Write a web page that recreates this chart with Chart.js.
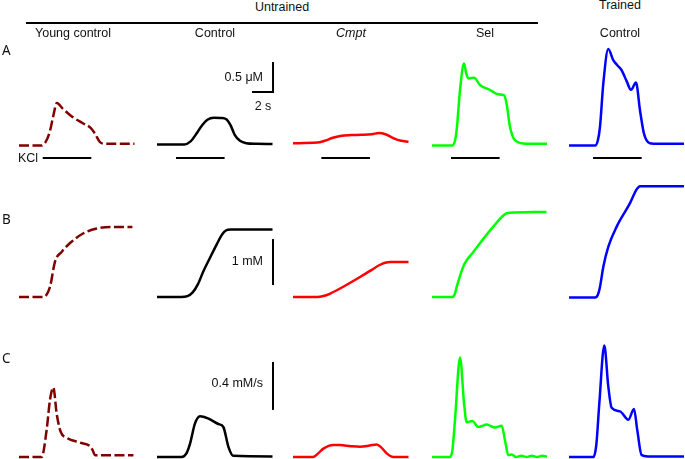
<!DOCTYPE html>
<html>
<head>
<meta charset="utf-8">
<script src="https://cdn.jsdelivr.net/npm/chart.js@4"></script>
<style>
  body { margin: 0; background: #fff; }
  #fig { position: relative; width: 685px; height: 459px; overflow: hidden; background: #fff; }
  #fig canvas { position: absolute; }
  .lbl { position: absolute; transform: translate(-50%, -50%); white-space: nowrap;
         font-family: "Liberation Sans", Arial, sans-serif; font-size: 12.5px; color: #111; }
  .right { transform: translate(-100%, -50%); }
  .letter { font-family: "Noto Sans", sans-serif; font-size: 13.5px; transform: translate(0, -50%); }
  .rule { position: absolute; height: 2px; background: #000; }
</style>
</head>
<body>
<div id="fig"></div>
<script>
// traces: [time (s), value]
const youngA = [[0,-0.01],[2.1,-0.01],[2.5,0.04],[2.9,0.2],[3.25,0.47],[3.6,0.7],[4.2,0.6],[5.0,0.48],[6.0,0.37],[6.8,0.29],[7.2,0.2],[7.7,0.05],[8.2,0.02],[11,0.02]];
const controlA = [[0,0.01],[2.6,0.01],[3.2,0.06],[3.8,0.2],[4.3,0.33],[4.8,0.42],[5.4,0.455],[6.1,0.45],[6.6,0.43],[7.0,0.33],[7.4,0.17],[7.9,0.07],[8.5,0.03],[9.5,0.02],[11,0.015]];
const cmptA = [[0,0.03],[2.3,0.04],[3.0,0.07],[3.8,0.12],[4.5,0.15],[5.5,0.165],[6.5,0.17],[7.5,0.18],[8.2,0.2],[8.8,0.18],[9.6,0.11],[10.3,0.07],[11,0.055]];
const selA = [[0,-0.01],[1.9,-0.01],[2.2,0.08],[2.35,0.25],[2.67,0.92],[3.05,1.36],[3.25,1.2],[3.46,1.11],[4.0,1.12],[4.57,1.0],[4.95,0.96],[5.5,0.92],[6.3,0.845],[6.86,0.83],[7.1,0.69],[7.43,0.3],[7.9,0.08],[9.0,0.02],[10.95,0.02]];
const trainedA = [[0,-0.01],[2.48,-0.01],[2.75,0.08],[2.95,0.3],[3.27,1.03],[3.74,1.6],[4.2,1.42],[4.6,1.33],[5.0,1.25],[5.5,1.06],[5.9,0.92],[6.38,1.04],[6.76,0.58],[7.14,0.19],[7.7,0.03],[8.5,0.02],[10.95,0.02]];

const youngB = [[0,0],[2.3,0],[2.95,0.22],[3.43,0.77],[4.06,0.98],[5.0,1.2],[6.1,1.38],[7.4,1.49],[8.67,1.52],[10.8,1.52]];
const controlB = [[0,0],[2.3,0],[2.9,0.02],[3.4,0.1],[3.9,0.28],[4.44,0.57],[5.0,0.83],[5.7,1.15],[6.2,1.36],[6.6,1.45],[7.0,1.47],[11,1.47]];
const cmptB = [[0,0],[2.3,0],[2.9,0.02],[3.5,0.07],[5,0.25],[6.5,0.45],[7.5,0.59],[8.2,0.69],[8.7,0.74],[9.3,0.76],[11,0.76]];
const selB = [[0,0],[1.9,0],[2.15,0.05],[2.35,0.22],[3.05,0.7],[3.94,0.98],[5.84,1.53],[7.11,1.82],[7.43,1.83],[10.9,1.85]];
const trainedB = [[0,-0.01],[2.48,-0.01],[2.75,0.05],[2.95,0.22],[3.27,0.66],[3.74,1.09],[4.54,1.53],[5.81,2.04],[6.44,2.34],[6.76,2.41],[10.95,2.41]];

const youngC = [[0,0],[2.16,0],[2.63,0.225],[2.95,0.475],[3.27,0.58],[3.59,0.36],[3.97,0.21],[4.54,0.16],[5.8,0.12],[6.76,0.09],[7.0,0.06],[7.24,0.015],[10.9,0.015]];
const controlC = [[0,0],[2.35,0],[2.8,0.03],[3.14,0.11],[3.62,0.28],[4.1,0.34],[4.9,0.32],[5.84,0.275],[6.32,0.25],[6.8,0.085],[7.27,0.01],[11,0.005]];
const cmptC = [[0,0],[1.9,0],[2.4,0.03],[2.89,0.07],[3.84,0.1],[4.48,0.1],[5.5,0.09],[6.38,0.085],[7.3,0.095],[7.97,0.105],[8.4,0.08],[8.92,0.03],[9.56,0],[11,0]];
const selC = [[0,0],[1.71,0],[1.95,0.06],[2.19,0.31],[2.67,0.83],[3.05,0.45],[3.3,0.29],[3.84,0.3],[4.41,0.25],[5.21,0.27],[6.0,0.245],[6.64,0.26],[6.95,0.14],[7.27,0.015],[7.6,0.02],[8.0,0.0],[8.5,0.01],[9.0,0.0],[9.5,0.01],[10,0.0],[10.5,0.01],[10.95,0.005]];
const trainedC = [[0,0],[2.32,0],[2.6,0.1],[2.89,0.45],[3.36,0.93],[3.74,0.59],[4.06,0.41],[4.86,0.38],[5.65,0.31],[6.19,0.4],[6.5,0.225],[6.92,0.015],[7.5,0.005],[10.95,0.005]];

const groups = ["Young control", "Control", "Cmpt", "Sel", "Control"];
const colors = ["#800000", "#000000", "#ff0000", "#00ff00", "#0000ff"];

// KCl application (s) per column, drawn under row A
const kclStart = [2.26, 1.81, 2.7, 1.81, 2.29];
const kclDuration = 4.63;
const kclLevel = -0.217;

// scale bars, in the control column: [t, value]
const scaleBarA = [[9.05, 0.883], [11.05, 0.883], [11.05, 1.383]]; // 2 s, 0.5 uM
const scaleBarB = [[11.05, 0.26], [11.05, 1.26]];                  // 1 mM
const scaleBarC = [[11.05, 0.392], [11.05, 0.792]];                // 0.4 mM/s

const rows = [
  { traces: [youngA, controlA, cmptA, selA, trainedA], top: 38, height: 130, base: 145, pxPerUnit: 60, bar: scaleBarA },
  { traces: [youngB, controlB, cmptB, selB, trainedB], top: 175, height: 130, base: 297, pxPerUnit: 46, bar: scaleBarB },
  { traces: [youngC, controlC, cmptC, selC, trainedC], top: 330, height: 129, base: 457, pxPerUnit: 120, bar: scaleBarC },
];

const colX = [19, 157, 293, 432, 569];
const pxPerSec = 10.5;
const padLeft = 11, panelWidth = 137;

const fig = document.getElementById("fig");

const toXY = (pts) => pts.map(([x, y]) => ({ x: x, y: y }));

const make_panel = (row, rowIndex, col) => {
  const c = document.createElement("canvas");
  c.width = panelWidth;
  c.height = row.height;
  c.style.left = (colX[col] - padLeft) + "px";
  c.style.top = row.top + "px";
  fig.appendChild(c);

  const datasets = [{
    data: toXY(row.traces[col]),
    borderColor: colors[col],
    borderWidth: 2.5,
    borderDash: col === 0 ? [10, 3.5] : [],
    cubicInterpolationMode: "monotone",
    clip: false,
  }];
  if (rowIndex === 0) {
    datasets.push({
      data: toXY([[kclStart[col], kclLevel], [kclStart[col] + kclDuration, kclLevel]]),
      borderColor: "#000", borderWidth: 2, clip: false,
    });
  }
  if (col === 1) {
    datasets.push({
      data: toXY(row.bar),
      borderColor: "#000", borderWidth: 2, clip: false,
      borderJoinStyle: "miter",
    });
  }

  new Chart(c.getContext("2d"), {
    type: "line",
    data: { datasets: datasets },
    options: {
      responsive: false,
      animation: false,
      events: [],
      layout: { padding: 0 },
      elements: { point: { radius: 0 } },
      plugins: { legend: { display: false }, tooltip: { enabled: false } },
      scales: {
        x: { type: "linear", display: false, min: -padLeft / pxPerSec, max: (panelWidth - padLeft) / pxPerSec },
        y: { type: "linear", display: false,
             min: -(row.top + row.height - row.base) / row.pxPerUnit,
             max: (row.base - row.top) / row.pxPerUnit },
      },
    },
  });
};

rows.forEach((row, r) => colX.forEach((_, col) => make_panel(row, r, col)));

const label = (text, x, y, cls, italic) => {
  const d = document.createElement("div");
  d.className = "lbl" + (cls ? " " + cls : "");
  d.textContent = text;
  d.style.left = x + "px";
  d.style.top = y + "px";
  if (italic) d.style.fontStyle = "italic";
  fig.appendChild(d);
};

label("Untrained", 282, 7);
label("Trained", 620, 5);
const rule = document.createElement("div");
rule.className = "rule";
rule.style.left = "26px"; rule.style.top = "22px"; rule.style.width = "512px";
fig.appendChild(rule);

const headX = [73, 215, 351, 485, 620];
groups.forEach((g, i) => label(g, headX[i], 33, "", g === "Cmpt"));

label("A", 2, 50, "letter");
label("B", 2, 219, "letter");
label("C", 2, 358, "letter");
label("KCl", 28, 158);

label("0.5 \u03bcM", 263, 77, "right");
label("2 s", 263, 106);
label("1 mM", 263, 261, "right");
label("0.4 mM/s", 263, 383, "right");
</script>
</body>
</html>
